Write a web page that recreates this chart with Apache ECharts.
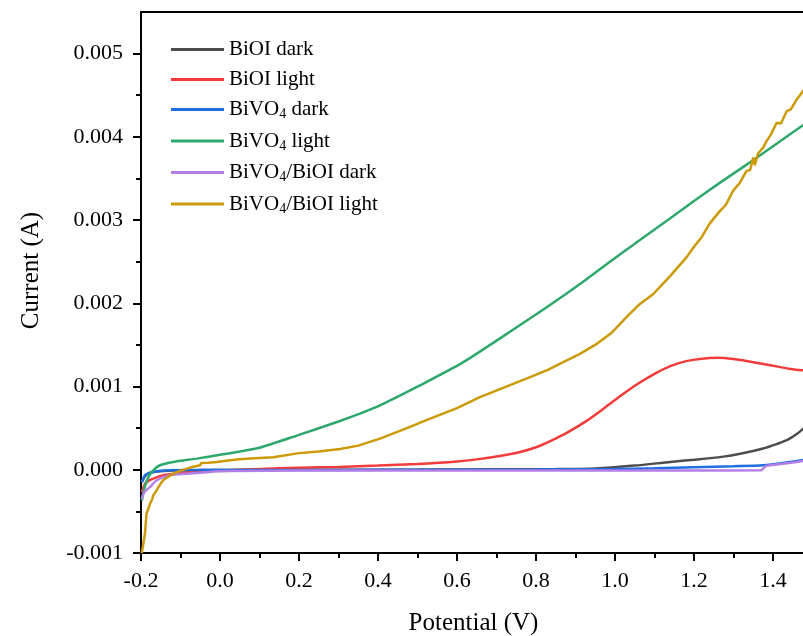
<!DOCTYPE html>
<html>
<head>
<meta charset="utf-8">
<script src="https://cdn.jsdelivr.net/npm/echarts@6/dist/echarts.min.js"></script>
<style>
html,body{margin:0;padding:0;background:#fff;}
#chart{width:803px;height:636px;}
</style>
</head>
<body>
<div id="chart"></div>
<script>
// Series names and colours
const seriesNames = ['BiOI dark', 'BiOI light', 'BiVO4 dark', 'BiVO4 light', 'BiVO4/BiOI dark', 'BiVO4/BiOI light'];
const seriesColors = ['#4d4d4d', '#f23c3c', '#1f6fe0', '#2ea86c', '#b37ee6', '#cc9a06'];

// Axis ticks
const xMajorTicks = [-0.2, 0.0, 0.2, 0.4, 0.6, 0.8, 1.0, 1.2, 1.4];
const xMinorTicks = [-0.1, 0.1, 0.3, 0.5, 0.7, 0.9, 1.1, 1.3];
const yMajorTicks = [-0.001, 0.000, 0.001, 0.002, 0.003, 0.004, 0.005];
const yMinorTicks = [-0.0005, 0.0005, 0.0015, 0.0025, 0.0035, 0.0045];

// Data: potential (V) and current (mA, converted to A below)
const biOIDarkX = [-0.198, -0.19, -0.18, -0.16, -0.12, -0.05, 0.1, 0.3, 0.5, 0.7, 0.85, 0.95, 1.05, 1.14, 1.2, 1.27, 1.32, 1.375, 1.41, 1.435, 1.46, 1.485];
const biOIDarkY = [-0.15, -0.08, -0.04, -0.02, -0.008, -0.004, 0, 0, 0.002, 0.005, 0.008, 0.015, 0.05, 0.094, 0.12, 0.155, 0.195, 0.255, 0.31, 0.355, 0.43, 0.53];

const biOILightX = [-0.198, -0.19, -0.18, -0.169, -0.144, -0.10, -0.05, 0.0, 0.1, 0.2, 0.3, 0.4, 0.5, 0.6, 0.65, 0.7, 0.76, 0.8, 0.84, 0.88, 0.93, 0.97, 1.01, 1.05, 1.1, 1.14, 1.18, 1.22, 1.26, 1.3, 1.35, 1.4, 1.44, 1.485];
const biOILightY = [-0.27, -0.17, -0.13, -0.106, -0.066, -0.038, -0.02, -0.008, 0.01, 0.025, 0.034, 0.05, 0.07, 0.1, 0.125, 0.16, 0.214, 0.27, 0.354, 0.45, 0.594, 0.73, 0.873, 1.01, 1.153, 1.245, 1.305, 1.335, 1.345, 1.33, 1.293, 1.25, 1.215, 1.19];

const biVO4DarkX = [-0.198, -0.19, -0.18, -0.169, -0.15, -0.127, -0.08, 0.0, 0.2, 0.4, 0.6, 0.8, 1.0, 1.1, 1.2, 1.3, 1.375, 1.43, 1.485];
const biVO4DarkY = [-0.15, -0.066, -0.04, -0.026, -0.012, -0.006, -0.004, -0.003, -0.002, -0.001, 0, 0.003, 0.01, 0.018, 0.03, 0.042, 0.054, 0.085, 0.125];

const biVO4LightX = [-0.198, -0.19, -0.181, -0.169, -0.152, -0.118, -0.059, 0.0, 0.05, 0.1, 0.2, 0.3, 0.354, 0.405, 0.506, 0.616, 0.726, 0.827, 0.928, 1.013, 1.063, 1.139, 1.2, 1.266, 1.35, 1.41, 1.476, 1.485];
const biVO4LightY = [-0.37, -0.2, -0.086, -0.006, 0.054, 0.094, 0.134, 0.18, 0.22, 0.265, 0.42, 0.58, 0.674, 0.773, 1.013, 1.293, 1.633, 1.952, 2.29, 2.59, 2.76, 3.02, 3.23, 3.45, 3.72, 3.92, 4.14, 4.17];

const compDarkX = [-0.198, -0.195, -0.19, -0.177, -0.16, -0.127, -0.09, -0.059, 0.0, 0.2, 0.5, 0.8, 1.0, 1.2, 1.37, 1.378, 1.385, 1.43, 1.485];
const compDarkY = [-0.35, -0.3, -0.26, -0.206, -0.126, -0.066, -0.048, -0.038, -0.018, -0.01, -0.008, -0.008, -0.008, -0.008, -0.006, 0.03, 0.05, 0.075, 0.11];

const compLightX = [-0.198, -0.196, -0.19, -0.186, -0.18, -0.177, -0.172, -0.169, -0.16, -0.155, -0.144, -0.13, -0.118, -0.1, -0.084, -0.065, -0.05, -0.048, -0.03, -0.008, 0.02, 0.05, 0.076, 0.135, 0.2, 0.25, 0.304, 0.35, 0.405, 0.473, 0.532, 0.6, 0.658, 0.72, 0.785, 0.83, 0.869, 0.91, 0.954, 0.99, 1.029, 1.063, 1.097, 1.14, 1.181, 1.2, 1.22, 1.24, 1.266, 1.28, 1.3, 1.315, 1.333, 1.342, 1.35, 1.354, 1.362, 1.375, 1.385, 1.395, 1.409, 1.42, 1.435, 1.445, 1.46, 1.476, 1.485];
const compLightY = [-1.0, -0.985, -0.765, -0.525, -0.45, -0.405, -0.36, -0.306, -0.246, -0.2, -0.126, -0.08, -0.046, -0.01, 0.014, 0.04, 0.054, 0.08, 0.085, 0.094, 0.11, 0.125, 0.134, 0.15, 0.2, 0.22, 0.25, 0.29, 0.374, 0.5, 0.614, 0.74, 0.873, 0.99, 1.113, 1.2, 1.293, 1.39, 1.513, 1.64, 1.833, 1.993, 2.112, 2.33, 2.552, 2.68, 2.8, 2.96, 3.111, 3.18, 3.36, 3.44, 3.591, 3.6, 3.75, 3.66, 3.8, 3.87, 3.96, 4.03, 4.17, 4.16, 4.31, 4.33, 4.45, 4.55, 4.62];

const allX = [biOIDarkX, biOILightX, biVO4DarkX, biVO4LightX, compDarkX, compLightX];
const allY = [biOIDarkY, biOILightY, biVO4DarkY, biVO4LightY, compDarkY, compLightY];

const FONT = 'Liberation Serif';
const xMin = -0.2, xMax = 1.4835;
const yMin = -0.001, yMax = 0.0055;

function pairs(xs, ys) { return xs.map((x, i) => [x, ys[i] / 1000]); }

const series = seriesNames.map((name, i) => ({
  name: name,
  type: 'line',
  data: pairs(allX[i], allY[i]),
  symbol: 'none',
  showSymbol: false,
  smooth: i === 5 ? false : 0.25,
  clip: true,
  animation: false,
  lineStyle: { color: seriesColors[i], width: 2.5 },
  itemStyle: { color: seriesColors[i] },
  z: 2 + i
}));

function legendLabel(name) {
  const parts = name.split('BiVO4');
  let out = '';
  parts.forEach((p, k) => {
    if (k > 0) out += '{n|BiVO}{s|4}';
    if (p) out += '{n|' + p + '}';
  });
  return out;
}

const baseX = {
  type: 'value', min: xMin, max: xMax, position: 'bottom',
  splitLine: { show: false }
};
const baseY = {
  type: 'value', min: yMin, max: yMax, position: 'left',
  splitLine: { show: false }
};

const chart = echarts.init(document.getElementById('chart'), null, { renderer: 'canvas' });
chart.setOption({
  backgroundColor: '#fff',
  animation: false,
  grid: { left: 141, right: -3, top: 12, bottom: 83, show: true, borderColor: '#000', borderWidth: 2,
    containLabel: false, outerBoundsMode: 'none' },
  legend: {
    show: true,
    orient: 'vertical', left: 166, top: 34, itemWidth: 53, itemHeight: 3, itemGap: 9,
    icon: 'rect',
    data: seriesNames,
    formatter: legendLabel,
    textStyle: {
      color: '#000', fontFamily: FONT, fontSize: 21,
      rich: {
        n: { fontFamily: FONT, fontSize: 21, color: '#000' },
        s: { fontFamily: FONT, fontSize: 14, color: '#000', padding: [10, 0, 0, 0] }
      }
    }
  },
  xAxis: [
    Object.assign({}, baseX, {
      name: 'Potential (V)', nameLocation: 'middle', nameGap: 58,
      nameTextStyle: { fontFamily: FONT, fontSize: 25, color: '#000' },
      axisLine: { show: true, onZero: false, lineStyle: { color: '#000', width: 2 } },
      axisTick: { show: true, inside: false, length: 8, customValues: xMajorTicks, lineStyle: { color: '#000', width: 2 } },
      axisLabel: { show: true, customValues: xMajorTicks, margin: 17, fontFamily: FONT, fontSize: 22, color: '#000',
        formatter: v => v.toFixed(1) }
    }),
    Object.assign({}, baseX, {
      axisLine: { show: false, onZero: false },
      axisTick: { show: true, inside: false, length: 5, customValues: xMinorTicks, lineStyle: { color: '#000', width: 2 } },
      axisLabel: { show: false }
    })
  ],
  yAxis: [
    Object.assign({}, baseY, {
      name: 'Current (A)', nameLocation: 'middle', nameGap: 97, nameRotate: 90,
      nameTextStyle: { fontFamily: FONT, fontSize: 25, color: '#000', padding: [0, 0, 0, 24] },
      axisLine: { show: true, onZero: false, lineStyle: { color: '#000', width: 2 } },
      axisTick: { show: true, inside: false, length: 8, customValues: yMajorTicks, lineStyle: { color: '#000', width: 2 } },
      axisLabel: { show: true, customValues: yMajorTicks, margin: 18, fontFamily: FONT, fontSize: 22, color: '#000',
        formatter: v => v.toFixed(3) }
    }),
    Object.assign({}, baseY, {
      axisLine: { show: false, onZero: false },
      axisTick: { show: true, inside: false, length: 5, customValues: yMinorTicks, lineStyle: { color: '#000', width: 2 } },
      axisLabel: { show: false }
    })
  ],
  series: series
});
</script>
</body>
</html>
